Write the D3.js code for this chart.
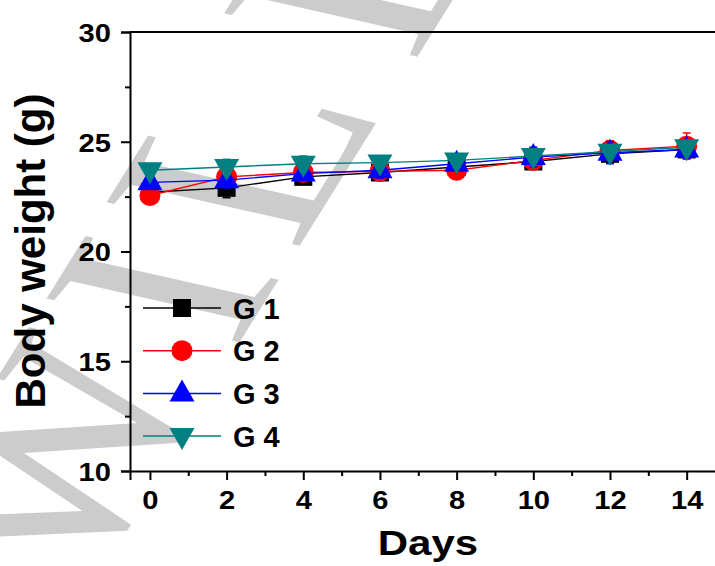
<!DOCTYPE html>
<html>
<head>
<meta charset="utf-8">
<script src="https://cdn.jsdelivr.net/npm/d3@7"></script>
<style>
  body { margin: 0; background: #fff; }
  svg { display: block; }
  text { font-family: "Liberation Sans", Arial, sans-serif; font-weight: bold; }
</style>
</head>
<body>
<div id="chart"></div>
<script>
var w = 715,
    h = 566;

// data
var days = [0, 2, 4, 6, 8, 10, 12, 14];
var g1 = [22.7, 22.9, 23.4, 23.6, 23.85, 24.1, 24.45, 24.65];
var g2 = [22.55, 23.4, 23.6, 23.65, 23.7, 24.15, 24.6, 24.8];
var g3 = [23.15, 23.25, 23.55, 23.7, 24.0, 24.3, 24.5, 24.65];
var g4 = [23.7, 23.85, 24.0, 24.05, 24.15, 24.35, 24.55, 24.75];
var g1err = [0.3, 0.45, 0.3, 0.35, 0.3, 0.35, 0.4, 0.3];
var g2err = [0.4, 0.4, 0.35, 0.3, 0.35, 0.4, 0.45, 0.6];
var g3err = [0.3, 0.35, 0.3, 0.35, 0.3, 0.45, 0.5, 0.4];
var g4err = [0.3, 0.35, 0.35, 0.3, 0.3, 0.3, 0.3, 0.3];
var names = ["G 1", "G 2", "G 3", "G 4"];
var colors = ["#000000", "#ff0000", "#0000ff", "#008080"];
var symbols = ["square", "circle", "up", "down"];
var yTicks = [10, 15, 20, 25, 30];
var xTicks = [0, 2, 4, 6, 8, 10, 12, 14];

var series = [g1, g2, g3, g4].map(function(vals, i) {
  var errs = [g1err, g2err, g3err, g4err][i];
  return {
    name: names[i], color: colors[i], symbol: symbols[i],
    points: days.map(function(d, j) { return {day: d, value: vals[j], err: errs[j]}; })
  };
});

var x = d3.scaleLinear().domain([-0.52, 15]).range([130, 725]);
var y = d3.scaleLinear().domain([10, 30]).range([471, 32]);

var svg = d3.select("#chart").append("svg")
    .attr("width", w)
    .attr("height", h);

// publisher watermark behind the chart (slanted, squashed serif text)
var wmLetters = ["W", "I", "L", "E", "Y"];
var wmPos = [-521, -152, -4, 281, 566];
var wm = svg.append("text")
    .attr("transform", "matrix(0.413,-0.663,0.819,0.185,297,250)")
    .style("font-family", "'Liberation Serif', serif")
    .style("font-weight", "normal")
    .style("font-size", "360px")
    .attr("fill", "#cccccc");
wmLetters.forEach(function(l, i) {
  wm.append("tspan").attr("x", wmPos[i]).attr("y", 0).text(l);
});

function markerPath(sym) {
  if (sym == "square") return "M-9,-9H9V9H-9Z";
  if (sym == "circle") return d3.symbol(d3.symbolCircle, Math.PI * 10.5 * 10.5)();
  if (sym == "up") return "M0,-14L12.5,8H-12.5Z";
  return "M0,14L12.5,-8H-12.5Z";
}

var line = d3.line()
    .x(function(d) { return x(d.day); })
    .y(function(d) { return y(d.value); });

// axes
var xAxis = d3.axisBottom(x).tickValues(xTicks).tickSize(9).tickPadding(10).tickFormat(d3.format("d"));
var xMinor = d3.axisBottom(x).tickValues([1, 3, 5, 7, 9, 11, 13]).tickSize(5).tickFormat("");
var yAxis = d3.axisLeft(y).tickValues(yTicks).tickSize(9).tickPadding(8).tickFormat(d3.format("d"));
var yMinor = d3.axisLeft(y).tickValues([12.5, 17.5, 22.5, 27.5]).tickSize(5).tickFormat("");

var gx = svg.append("g").attr("transform", "translate(0,471)").call(xAxis);
svg.append("g").attr("transform", "translate(0,471)").call(xMinor).select(".domain").remove();
var gy = svg.append("g").attr("transform", "translate(130,0)").call(yAxis);
svg.append("g").attr("transform", "translate(130,0)").call(yMinor).select(".domain").remove();

svg.selectAll(".domain").attr("stroke", "#000").attr("stroke-width", 2);
svg.selectAll(".tick line").attr("stroke", "#000").attr("stroke-width", 2);

gx.selectAll("text")
    .attr("fill", "#000")
    .style("font-size", "26px")
    .attr("transform", "scale(1.12,1)")
    .attr("dy", "0.72em");
gy.selectAll("text")
    .attr("fill", "#000")
    .style("font-size", "26px")
    .attr("transform", "scale(1.12,1)")
    .attr("dy", "0.36em");

// top frame line
svg.append("line")
    .attr("x1", x(-0.52)).attr("x2", x(15))
    .attr("y1", y(30)).attr("y2", y(30))
    .attr("stroke", "#000").attr("stroke-width", 2);

// series
series.forEach(function(s) {
  var g = svg.append("g");
  g.append("path")
      .datum(s.points)
      .attr("d", line)
      .attr("fill", "none")
      .attr("stroke", s.color)
      .attr("stroke-width", 1.4);
  var eb = g.selectAll(".eb").data(s.points).enter().append("g")
      .attr("stroke", s.color).attr("stroke-width", 1.5);
  eb.append("line")
      .attr("x1", function(d) { return x(d.day); })
      .attr("x2", function(d) { return x(d.day); })
      .attr("y1", function(d) { return y(d.value - d.err); })
      .attr("y2", function(d) { return y(d.value + d.err); });
  eb.append("line")
      .attr("x1", function(d) { return x(d.day) - 4; })
      .attr("x2", function(d) { return x(d.day) + 4; })
      .attr("y1", function(d) { return y(d.value + d.err); })
      .attr("y2", function(d) { return y(d.value + d.err); });
  eb.append("line")
      .attr("x1", function(d) { return x(d.day) - 4; })
      .attr("x2", function(d) { return x(d.day) + 4; })
      .attr("y1", function(d) { return y(d.value - d.err); })
      .attr("y2", function(d) { return y(d.value - d.err); });
  g.selectAll(".mk").data(s.points).enter().append("path")
      .attr("d", markerPath(s.symbol))
      .attr("transform", function(d) { return "translate(" + x(d.day) + "," + y(d.value) + ")"; })
      .attr("fill", s.color);
});

// legend
var legend = svg.append("g").attr("transform", "translate(143,308)");
var rows = legend.selectAll("g").data(series).enter().append("g")
    .attr("transform", function(d, i) { return "translate(0," + (i * 42.7) + ")"; });
rows.append("line")
    .attr("x1", 0).attr("x2", 78)
    .attr("stroke", function(d) { return d.color; })
    .attr("stroke-width", 1.5);
rows.append("path")
    .attr("d", function(d) { return markerPath(d.symbol); })
    .attr("transform", "translate(39,0)")
    .attr("fill", function(d) { return d.color; });
rows.append("text")
    .attr("x", 90)
    .attr("y", 10.5)
    .style("font-size", "29px")
    .attr("fill", "#000")
    .text(function(d) { return d.name; });

// axis titles
svg.append("text")
    .attr("x", 428)
    .attr("y", 555)
    .attr("text-anchor", "middle")
    .style("font-size", "35px")
    .attr("transform", "translate(428,0) scale(1.2,1) translate(-428,0)")
    .text("Days");
svg.append("text")
    .attr("transform", "translate(45,251) rotate(-90)")
    .attr("text-anchor", "middle")
    .style("font-size", "42px")
    .text("Body weight (g)");
</script>
</body>
</html>
